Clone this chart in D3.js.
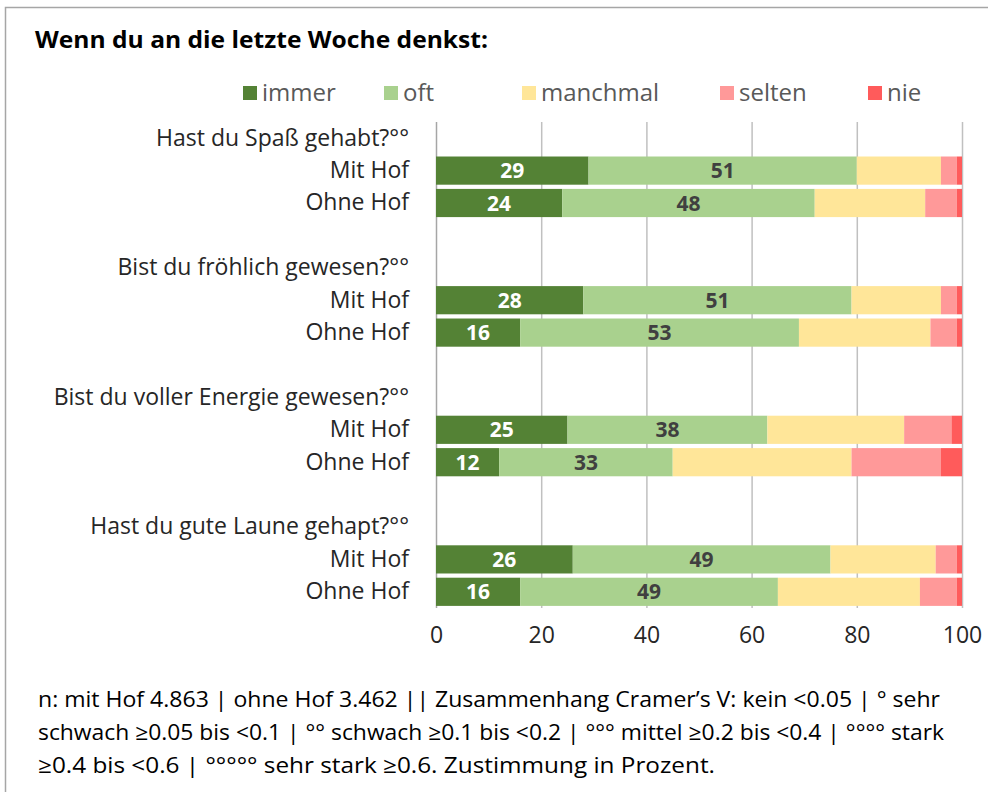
<!DOCTYPE html>
<html>
<head>
    <meta charset="utf-8">
    <style>
        body { margin: 0; background: #fff; }
    </style>
</head>
<body>
    <script src="https://cdn.jsdelivr.net/npm/d3@7"></script>
    <script>
        // categories and answers
        var questions = ["Hast du Spaß gehabt?°°", "Bist du fröhlich gewesen?°°",
                         "Bist du voller Energie gewesen?°°", "Hast du gute Laune gehapt?°°"];
        var groups = ["Mit Hof", "Ohne Hof"];
        var answers = ["immer", "oft", "manchmal", "selten", "nie"];
        var colors = ["#548235", "#a9d18e", "#ffe699", "#ff9999", "#ff5b5b"];

        // percentages per answer, order: Spaß Mit/Ohne, fröhlich Mit/Ohne, Energie Mit/Ohne, Laune Mit/Ohne
        var immer    = [29, 24, 28, 16, 25, 12, 26, 16];
        var oft      = [51, 48, 51, 53, 38, 33, 49, 49];
        var manchmal = [16, 21, 17, 25, 26, 34, 20, 27];
        var selten   = [3, 6, 3, 5, 9, 17, 4, 7];
        var nie      = [1, 1, 1, 1, 2, 4, 1, 1];

        var xTicks = [0, 20, 40, 60, 80, 100];

        var title = "Wenn du an die letzte Woche denkst:";
        var footer = [
            "n: mit Hof 4.863 | ohne Hof 3.462 || Zusammenhang Cramer\u2019s V: kein <0.05 | ° sehr",
            "schwach \u22650.05 bis <0.1 | °° schwach \u22650.1 bis <0.2 | °°° mittel \u22650.2 bis <0.4 | °°°° stark",
            "\u22650.4 bis <0.6 | °°°°° sehr stark \u22650.6. Zustimmung in Prozent."
        ];
        var footerWidths = [902, 906, 677];

        var labelFont = "'Open Sans', 'Noto Sans', sans-serif";

        // build the rows: question, Mit Hof, Ohne Hof, gap
        var rows = [];
        var series = [immer, oft, manchmal, selten, nie];
        questions.forEach(function (q, qi) {
            rows.push({ id: "q" + qi, label: q, values: null });
            groups.forEach(function (g, gi) {
                var k = qi * 2 + gi;
                var rec = { id: "q" + qi + "g" + gi, label: g, values: {} };
                answers.forEach(function (a, ai) { rec.values[a] = series[ai][k]; });
                rows.push(rec);
            });
            if (qi < questions.length - 1) rows.push({ id: "gap" + qi, label: "", values: null });
        });

        var width = 988, height = 792;
        var plot = { left: 436, right: 962, top: 122, bottom: 608 };

        var svg = d3.select("body").append("svg")
            .attr("width", width)
            .attr("height", height);

        // frame
        svg.append("path")
            .attr("d", "M5.5,792 V7.5 H988")
            .attr("fill", "none")
            .attr("stroke", "#a6a6a6")
            .attr("stroke-width", 1.5);

        svg.append("text")
            .attr("x", 35).attr("y", 48)
            .attr("font-family", labelFont)
            .attr("font-weight", "bold")
            .attr("font-size", 24)
            .attr("textLength", 453)
            .attr("lengthAdjust", "spacingAndGlyphs")
            .attr("fill", "#000")
            .text(title);

        var x = d3.scaleLinear().domain([0, 100]).range([plot.left, plot.right]);
        var y = d3.scaleBand().domain(rows.map(function (d) { return d.id; }))
            .range([plot.top, plot.bottom])
            .paddingInner(0.13).paddingOuter(0.065);

        // gridlines
        var grid = svg.append("g")
            .attr("transform", "translate(0," + plot.top + ")")
            .call(d3.axisTop(x).tickValues(xTicks).tickSize(-(plot.bottom - plot.top)).tickFormat(""));
        grid.select(".domain").remove();
        grid.selectAll(".tick line").attr("stroke", "#c0c0c0").attr("stroke-width", 1.5);
        grid.selectAll(".tick").filter(function (d) { return d === 0; })
            .select("line").attr("stroke", "#a6a6a6");

        // stacked bars
        var barRows = rows.filter(function (d) { return d.values; });
        var stack = d3.stack().keys(answers)(barRows.map(function (d) { return d.values; }));

        var layers = svg.selectAll(".layer")
            .data(stack)
            .enter().append("g")
            .attr("class", "layer")
            .attr("fill", function (d, i) { return colors[i]; });

        layers.selectAll("rect")
            .data(function (d) { return d; })
            .enter().append("rect")
            .attr("x", function (d) { return x(d[0]); })
            .attr("width", function (d) { return x(d[1]) - x(d[0]); })
            .attr("y", function (d, i) { return y(barRows[i].id); })
            .attr("height", y.bandwidth());

        // value labels for immer and oft
        [0, 1].forEach(function (li) {
            svg.append("g").selectAll("text")
                .data(stack[li])
                .enter().append("text")
                .attr("x", function (d) { return (x(d[0]) + x(d[1])) / 2; })
                .attr("y", function (d, i) { return y(barRows[i].id) + y.bandwidth() / 2; })
                .attr("dy", "0.36em")
                .attr("text-anchor", "middle")
                .attr("font-family", labelFont)
                .attr("font-weight", "bold")
                .attr("font-size", 21)
                .attr("fill", li === 0 ? "#ffffff" : "#404040")
                .text(function (d) { return d[1] - d[0]; });
        });

        // row labels
        var yAxis = svg.append("g")
            .attr("transform", "translate(" + (plot.left - 27) + ",0)")
            .call(d3.axisLeft(y).tickSize(0).tickFormat(function (id) {
                return rows.find(function (r) { return r.id === id; }).label;
            }));
        yAxis.select(".domain").remove();
        yAxis.selectAll("text")
            .attr("font-family", labelFont)
            .attr("font-size", 23)
            .attr("fill", "#262626")
            .attr("x", 0);

        // x axis labels
        var xAxis = svg.append("g")
            .attr("transform", "translate(0," + plot.bottom + ")")
            .call(d3.axisBottom(x).tickValues(xTicks).tickSize(0).tickPadding(19));
        xAxis.select(".domain").remove();
        xAxis.selectAll("text")
            .attr("font-family", labelFont)
            .attr("font-size", 23)
            .attr("fill", "#262626");

        // legend
        var legendX = [243, 384, 522, 720, 868];
        var legend = svg.append("g").selectAll("g")
            .data(answers)
            .enter().append("g")
            .attr("transform", function (d, i) { return "translate(" + legendX[i] + ",93)"; });
        legend.append("rect")
            .attr("x", 0).attr("y", -7)
            .attr("width", 14).attr("height", 14)
            .attr("fill", function (d, i) { return colors[i]; });
        legend.append("text")
            .attr("x", 19).attr("dy", "0.35em")
            .attr("font-family", labelFont)
            .attr("font-size", 24)
            .attr("fill", "#595959")
            .text(function (d) { return d; });

        // footer
        svg.append("g").selectAll("text")
            .data(footer)
            .enter().append("text")
            .attr("x", 38)
            .attr("y", function (d, i) { return 707 + i * 33; })
            .attr("font-family", labelFont)
            .attr("font-size", 22)
            .attr("textLength", function (d, i) { return footerWidths[i]; })
            .attr("lengthAdjust", "spacingAndGlyphs")
            .attr("fill", "#000")
            .text(function (d) { return d; });
    </script>
</body>
</html>
